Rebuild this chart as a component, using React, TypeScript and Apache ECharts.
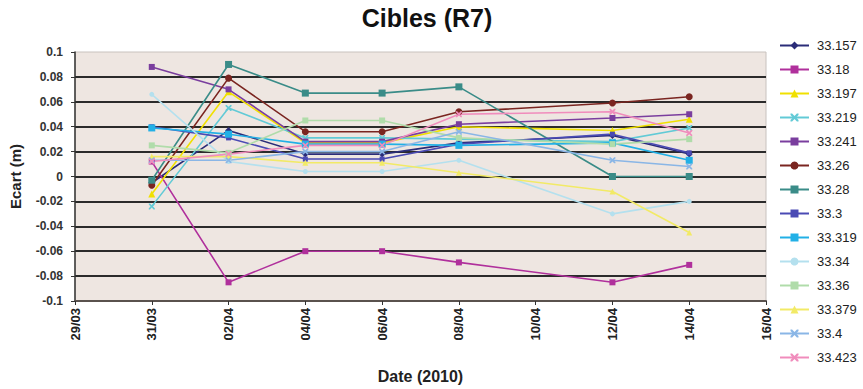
import React, { useEffect, useRef } from "react";
import * as echarts from "echarts";

const tickLabels = ["29/03", "31/03", "02/04", "04/04", "06/04", "08/04", "10/04", "12/04", "14/04", "16/04"];
const dates = ["31/03", "02/04", "04/04", "06/04", "08/04", "12/04", "14/04"];

const seriesNames = ["33.157", "33.18", "33.197", "33.219", "33.241", "33.26", "33.28", "33.3", "33.319", "33.34", "33.36", "33.379", "33.4", "33.423"];

const s33157 = [-0.005, 0.037, 0.018, 0.018, 0.027, 0.033, 0.018];
const s3318 = [0.012, -0.085, -0.06, -0.06, -0.069, -0.085, -0.071];
const s33197 = [-0.014, 0.068, 0.027, 0.027, 0.04, 0.037, 0.046];
const s33219 = [-0.024, 0.055, 0.031, 0.031, 0.03, 0.028, 0.039];
const s33241 = [0.088, 0.07, 0.028, 0.028, 0.042, 0.047, 0.05];
const s3326 = [-0.007, 0.079, 0.036, 0.036, 0.052, 0.059, 0.064];
const s3328 = [-0.003, 0.09, 0.067, 0.067, 0.072, 0.0, 0.0];
const s333 = [0.04, 0.031, 0.014, 0.014, 0.026, 0.034, 0.019];
const s33319 = [0.039, 0.034, 0.026, 0.026, 0.025, 0.027, 0.013];
const s3334 = [0.066, 0.012, 0.004, 0.004, 0.013, -0.03, -0.02];
const s3336 = [0.025, 0.019, 0.045, 0.045, 0.031, 0.026, 0.03];
const s33379 = [0.016, 0.016, 0.011, 0.011, 0.003, -0.012, -0.045];
const s334 = [0.013, 0.013, 0.02, 0.02, 0.036, 0.013, 0.008];
const s33423 = [0.012, 0.018, 0.025, 0.025, 0.05, 0.052, 0.035];

const allValues = [s33157, s3318, s33197, s33219, s33241, s3326, s3328, s333, s33319, s3334, s3336, s33379, s334, s33423];

const colors = ["#2A2C78", "#B0309C", "#F0E000", "#62CAD6", "#7A3E9E", "#7A2520", "#3A8C88", "#4A4AB4", "#22B0E6", "#B4E0EE", "#B0DCAA", "#F2EA66", "#8AB6E6", "#F08CBC"];

const X_PATH = "path://M0,0 L2,0 5,3 8,0 10,0 10,2 7,5 10,8 10,10 8,10 5,7 2,10 0,10 0,8 3,5 0,2z";
const symbols = ["diamond", "rect", "triangle", X_PATH, "rect", "circle", "path://M0,0h2v10h-2z", "path://M0,0h10v3h-10z", "path://M0,0h10v4h-10z", "circle", "rect", "triangle", X_PATH, X_PATH];
const symbolSizes = [7, 6, 7, 6, 6, 7, 7, 5, 7, 5, 6, 6, 6, 6];

const FONT = "'Liberation Sans', Arial, sans-serif";

function dayOffset(s: string): number {
  const [d, m] = s.split("/").map(Number);
  return (Date.UTC(2010, m - 1, d) - Date.UTC(2010, 2, 29)) / 86400000;
}

export default function App() {
  const ref = useRef<HTMLDivElement>(null);
  useEffect(() => {
    if (!ref.current) return;
    const chart = echarts.init(ref.current, null, { renderer: "svg" });
    const xs = dates.map(dayOffset);
    const splitColors = ["rgba(0,0,0,0)"];
    for (let i = 0; i < 9; i++) splitColors.push("#2b2b2b");
    splitColors.push("rgba(0,0,0,0)");
    chart.setOption({
      animation: false,
      backgroundColor: "#ffffff",
      title: {
        text: "Cibles (R7)",
        left: 427,
        textAlign: "center",
        top: 5,
        padding: 0,
        textStyle: { fontFamily: FONT, fontSize: 25, fontWeight: "bold", color: "#111" },
      },
      legend: {
        orient: "vertical",
        left: 779,
        top: 39,
        padding: 0,
        itemWidth: 29,
        itemHeight: 10,
        itemGap: 11,
        data: seriesNames,
        textStyle: { fontFamily: FONT, fontSize: 13, color: "#222", padding: [0, 0, 0, 3] },
      },
      grid: {
        left: 75,
        right: 97,
        top: 52,
        bottom: 87,
        show: true,
        backgroundColor: "#EEE6E1",
        borderColor: "#c8c2be",
        borderWidth: 1,
      },
      xAxis: {
        type: "value",
        min: 0,
        max: 18,
        interval: 2,
        name: "Date (2010)",
        nameLocation: "middle",
        nameGap: 67,
        nameTextStyle: { fontFamily: FONT, fontSize: 16, fontWeight: "bold", color: "#222" },
        axisLine: { show: true, onZero: false, lineStyle: { color: "#5a524e", width: 2 } },
        axisTick: { show: true, length: 4, lineStyle: { color: "#333" } },
        splitLine: { show: false },
        axisLabel: {
          rotate: 90,
          fontFamily: FONT,
          fontSize: 13,
          fontWeight: "bold",
          color: "#222",
          margin: 7,
          formatter: (v: number) => tickLabels[Math.round(v / 2)] ?? "",
        },
      },
      yAxis: {
        type: "value",
        min: -0.1,
        max: 0.1,
        interval: 0.02,
        name: "Ecart (m)",
        nameLocation: "middle",
        nameGap: 52,
        nameTextStyle: { fontFamily: FONT, fontSize: 15, fontWeight: "bold", color: "#222" },
        axisLine: { show: true, lineStyle: { color: "#333", width: 1.5 } },
        axisTick: { show: true, length: 4, lineStyle: { color: "#333" } },
        axisLabel: {
          fontFamily: FONT,
          fontSize: 12,
          fontWeight: "bold",
          color: "#333",
          margin: 12,
          formatter: (v: number) => String(+v.toFixed(2)),
        },
        splitLine: { show: true, lineStyle: { color: splitColors, width: 2 } },
      },
      series: seriesNames.map((name, i) => ({
        name,
        type: "line",
        data: allValues[i].map((v, j) => [xs[j], v]),
        symbol: symbols[i],
        symbolSize: symbolSizes[i],
        showAllSymbol: true,
        lineStyle: { color: colors[i], width: 1.6 },
        itemStyle: { color: colors[i] },
        emphasis: { disabled: true },
      })),
    });
    return () => chart.dispose();
  }, []);
  return (
    <div
      ref={ref}
      style={{ position: "fixed", left: 0, top: 0, width: 863, height: 389 }}
    />
  );
}
